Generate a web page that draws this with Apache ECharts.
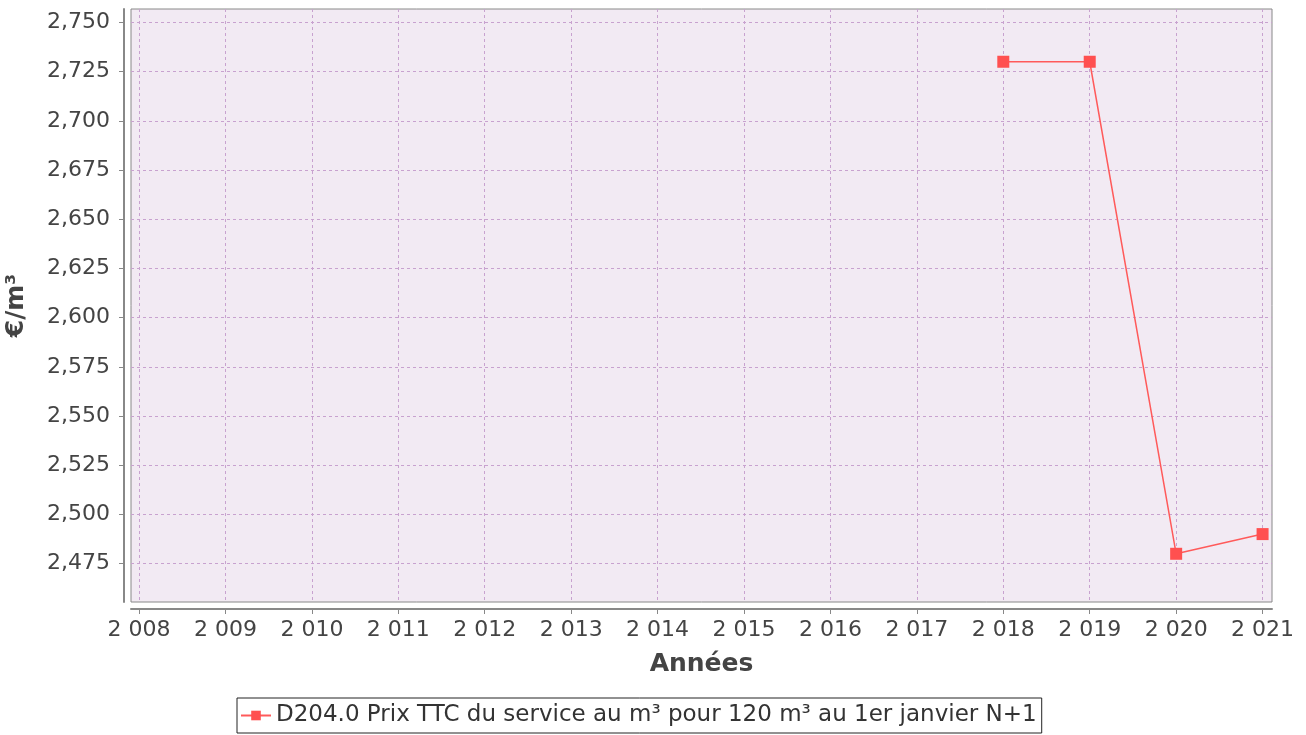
<!DOCTYPE html>
<html><head><meta charset="utf-8">
<script src="https://cdn.jsdelivr.net/npm/echarts@6/dist/echarts.min.js"></script>
<style>html,body{margin:0;padding:0;background:#fff}#c{width:1306px;height:735px}</style>
</head><body><div id="c"></div>
<script>
const years = [2018, 2019, 2020, 2021];
const values = [2.73, 2.73, 2.48, 2.49];
const xTicks = [2008,2009,2010,2011,2012,2013,2014,2015,2016,2017,2018,2019,2020,2021];
const yTicks = [2.475,2.5,2.525,2.55,2.575,2.6,2.625,2.65,2.675,2.7,2.725,2.75];
const seriesName = 'D204.0 Prix TTC du service au m³ pour 120 m³ au 1er janvier N+1';
const xName = 'Années';
const yName = '€/m³';

const chart = echarts.init(document.getElementById('c'));
const font = 'DejaVu Sans';
const gridLine = {show:true, lineStyle:{color:'#c8a2cf', type:[3,3], width:1}};
chart.setOption({
  animation:false,
  backgroundColor:'#ffffff',
  textStyle:{fontFamily:font},
  grid:{left:131, right:34, top:9, bottom:133, show:true, containLabel:false, outerBoundsMode:'none',
    backgroundColor:'#f2eaf3', borderColor:'#888888', borderWidth:1},
  xAxis:{type:'value', min:2007.907, max:2021.109, offset:7,
    name:xName, nameLocation:'middle', nameGap:43,
    nameTextStyle:{fontFamily:font, fontSize:25, fontWeight:'bold', color:'#444'},
    axisLine:{show:true, onZero:false, lineStyle:{color:'#888', width:2}},
    axisTick:{show:true, length:5, customValues:xTicks, lineStyle:{color:'#888'}},
    axisLabel:{customValues:xTicks, fontFamily:font, fontSize:22, color:'#444', margin:10,
      formatter:v=>{const s=String(Math.round(v));return s.slice(0,1)+' '+s.slice(1);}},
    splitLine:gridLine},
  yAxis:{type:'value', min:2.4555, max:2.7568, offset:7,
    name:yName, nameLocation:'middle', nameGap:95, nameRotate:90,
    nameTextStyle:{fontFamily:font, fontSize:25, fontWeight:'bold', color:'#444'},
    axisLine:{show:true, lineStyle:{color:'#888', width:2}},
    axisTick:{show:true, length:5, customValues:yTicks, lineStyle:{color:'#888'}},
    axisLabel:{customValues:yTicks, fontFamily:font, fontSize:22, color:'#444', margin:14,
      formatter:v=>v.toFixed(3).replace('.',',')},
    splitLine:gridLine},
  legend:{bottom:2, left:237, borderColor:'#222', borderWidth:1, borderRadius:0,
    padding:[6,5,6,3], itemWidth:30, itemHeight:12, itemGap:5,
    textStyle:{fontFamily:font, fontSize:23, color:'#333'}},
  series:[{name:seriesName, type:'line', data:years.map((y,i)=>[y,values[i]]),
    symbol:'rect', symbolSize:12, itemStyle:{color:'#ff5050'},
    lineStyle:{color:'#ff5a5a', width:1.5}}]
});
</script></body></html>
